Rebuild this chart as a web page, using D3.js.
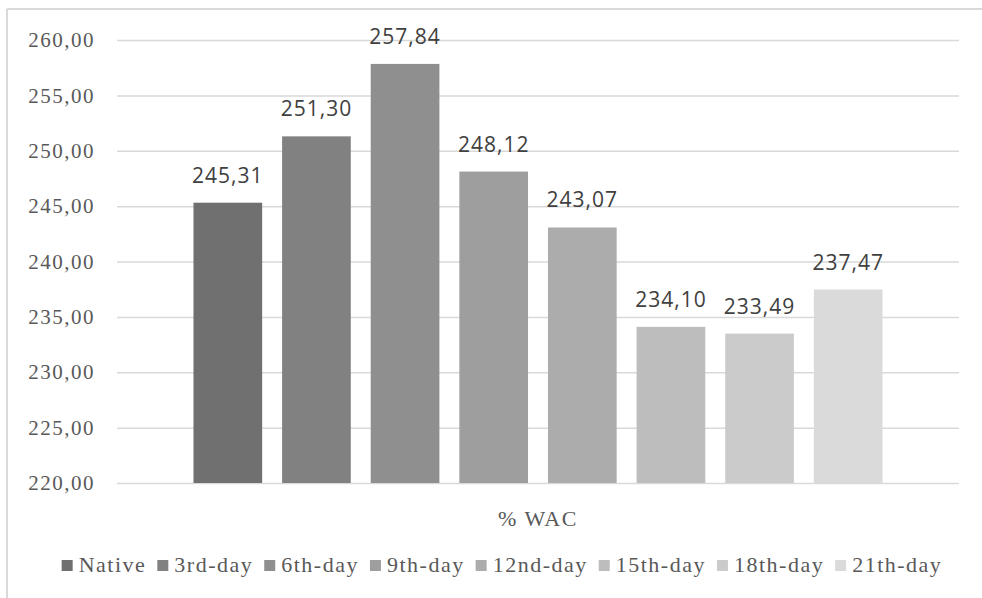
<!DOCTYPE html>
<html>
<head>
<meta charset="utf-8">
<script src="https://cdn.jsdelivr.net/npm/d3@7"></script>
<style>
  body { margin: 0; background: #fff; }
</style>
</head>
<body>
<svg id="chart"></svg>
<script>
// data
const series = ["Native", "3rd-day", "6th-day", "9th-day", "12nd-day", "15th-day", "18th-day", "21th-day"];
const values = [245.31, 251.30, 257.84, 248.12, 243.07, 234.10, 233.49, 237.47];
const yTicks = [220, 225, 230, 235, 240, 245, 250, 255, 260];
const category = "% WAC";
const colors = ["#707070", "#818181", "#8f8f8f", "#9e9e9e", "#acacac", "#bdbdbd", "#cbcbcb", "#dadada"];

const W = 982, H = 598;
const margin = { top: 40, right: 23, bottom: 115, left: 117 };
const width = W - margin.left - margin.right;
const height = H - margin.top - margin.bottom;

const svg = d3.select("#chart").attr("width", W).attr("height", H);

// outer frame (only top and left are visible)
svg.append("line").attr("x1", 7).attr("x2", W).attr("y1", 9).attr("y2", 9)
    .attr("stroke", "#d9d9d9").attr("stroke-width", 2);
svg.append("line").attr("x1", 7).attr("x2", 7).attr("y1", 9).attr("y2", H)
    .attr("stroke", "#d9d9d9").attr("stroke-width", 2);

const g = svg.append("g").attr("transform", `translate(${margin.left},${margin.top})`);

const y = d3.scaleLinear().domain([220, 260]).range([height, 0]);
const x0 = d3.scaleBand().domain([category]).range([0, width]).paddingOuter(0.111);
const x1 = d3.scaleBand().domain(series).range([0, x0.bandwidth()]).paddingInner(0.225).paddingOuter(0);

const fmt = v => d3.format(".2f")(v).replace(".", ",");

// gridlines + y labels
const yAxis = d3.axisLeft(y).tickValues(yTicks).tickSize(-width).tickFormat(fmt).tickPadding(22);
const ya = g.append("g").call(yAxis);
ya.select(".domain").remove();
ya.selectAll(".tick line").attr("stroke", "#d9d9d9").attr("stroke-width", 1.5);
ya.selectAll(".tick text")
    .attr("fill", "#595959")
    .style("font-family", "'Liberation Serif', 'Times New Roman', serif")
    .style("font-size", "21px")
    .style("letter-spacing", "1.5px");

// bars
const grp = g.append("g").attr("transform", `translate(${x0(category)},0)`);
grp.selectAll("rect")
    .data(series)
    .enter().append("rect")
    .attr("x", d => x1(d))
    .attr("y", (d, i) => y(values[i]))
    .attr("width", x1.bandwidth())
    .attr("height", (d, i) => height - y(values[i]))
    .attr("fill", (d, i) => colors[i]);

// value labels
grp.selectAll("text.val")
    .data(series)
    .enter().append("text")
    .attr("class", "val")
    .attr("x", d => x1(d) + x1.bandwidth() / 2)
    .attr("y", (d, i) => y(values[i]) - 20)
    .attr("text-anchor", "middle")
    .attr("fill", "#404040")
    .style("font-family", "'Open Sans', 'Liberation Sans', sans-serif")
    .style("font-size", "21px")
    .style("letter-spacing", "1px")
    .text((d, i) => fmt(values[i]));

// category label
g.append("text")
    .attr("x", x0(category) + x0.bandwidth() / 2)
    .attr("y", height + 43)
    .attr("text-anchor", "middle")
    .attr("fill", "#595959")
    .style("font-family", "'Liberation Serif', 'Times New Roman', serif")
    .style("font-size", "22px")
    .style("letter-spacing", "1.5px")
    .text(category);

// legend
const legend = svg.append("g").attr("transform", `translate(0, 572)`);
const items = legend.selectAll("g")
    .data(series)
    .enter().append("g");
items.append("rect")
    .attr("y", -12)
    .attr("width", 11)
    .attr("height", 11)
    .attr("fill", (d, i) => colors[i]);
items.append("text")
    .attr("x", 17)
    .attr("fill", "#595959")
    .style("font-family", "'Liberation Serif', 'Times New Roman', serif")
    .style("font-size", "22px")
    .style("letter-spacing", "1.5px")
    .text(d => d);

let pos = 0;
const widths = [];
items.each(function () {
    widths.push(this.getBBox().width);
});
const gap = 11;
const total = d3.sum(widths) + gap * (widths.length - 1);
pos = 502 - total / 2;
items.attr("transform", (d, i) => {
    const t = `translate(${pos},0)`;
    pos += widths[i] + gap;
    return t;
});
</script>
</body>
</html>
